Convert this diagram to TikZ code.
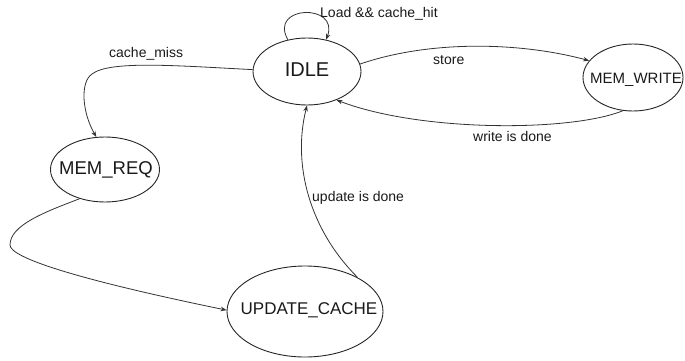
\documentclass[tikz,border=0pt]{standalone}
\usepackage{fontspec}
\setmainfont{Liberation Sans}
\usetikzlibrary{shapes.geometric,arrows.meta}
\begin{document}
\begin{tikzpicture}[x=1pt,y=-1pt,
  state/.style={ellipse,draw=black!85,line width=0.9pt,inner sep=0pt},
  stext/.style={inner sep=0pt,text=black!90,text height=0.72em,text depth=0pt},
  conn/.style={draw=black!80,line width=0.8pt,-{Stealth[length=6pt,width=4.5pt]}},
  lbl/.style={anchor=base west,inner sep=0pt,font=\fontsize{14}{16}\selectfont,text=black!90}]
\useasboundingbox (0,0) rectangle (685,361);
\node[state,minimum width=108pt,minimum height=67pt] (idle) at (307,71.5) {};
\node[state,minimum width=100pt,minimum height=67pt] (mw) at (633,77.5) {};
\node[state,minimum width=109pt,minimum height=65pt] (mreq) at (105,169.5) {};
\node[state,minimum width=156pt,minimum height=91pt] (uc) at (305,311.5) {};
\node[stext,font=\fontsize{20}{22}\selectfont] (idleT) at (307,73) {IDLE};
\node[stext,font=\fontsize{15}{17}\selectfont] (mwT) at (636,80) {MEM\_WRITE};
\node[stext,font=\fontsize{18.5}{20}\selectfont] (mreqT) at (106,171) {MEM\_REQ};
\node[stext,font=\fontsize{17}{19}\selectfont] (ucT) at (309,311) {UPDATE\_CACHE};
\coordinate (cmA) at (92,74);
\coordinate (muA) at (10,245);
% self loop
\draw[conn] (idle.121) .. controls (268,5) and (340,3) .. (idle.59);
% cache_miss
\draw[conn] (idle.178) .. controls (180,66) and (110,60) .. (cmA) .. controls (80,82) and (82,112) .. (mreq.105);
% store
\draw[conn] (idle.8) .. controls (430,40) and (520,42) .. (mw.159);
% write is done
\draw[conn] (mw.253) .. controls (570,132) and (420,132) .. (idle.316);
% mem_req -> update_cache
\draw[conn] (mreq.229) .. controls (45,212) and (10,225) .. (muA) .. controls (10,258) and (80,280) .. (uc.179);
% update is done
\draw[conn] (uc.33) .. controls (310,230) and (292,165) .. (idle.270);
% labels
\node[lbl] (l1) at (320,17.5) {Load \&\& cache\_hit};
\node[lbl] (l2) at (109,58) {cache\_miss};
\node[lbl] (l3) at (433,65) {store};
\node[lbl] (l4) at (473,141.5) {write is done};
\node[lbl] (l5) at (312,201.5) {update is done};
\end{tikzpicture}
\end{document}
